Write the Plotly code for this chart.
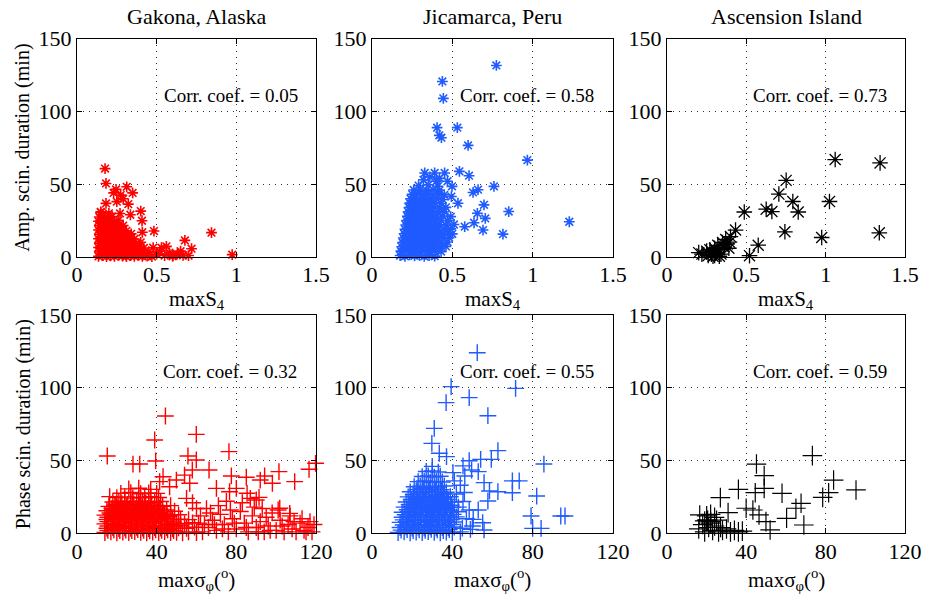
import plotly.graph_objects as go

# ---------------- data ----------------
titles = ["Gakona, Alaska", "Jicamarca, Peru", "Ascension Island"]
corr_amp = ["0.05", "0.58", "0.73"]
corr_phase = ["0.32", "0.55", "0.59"]
amp_xticks = [0, 0.5, 1, 1.5]
phase_xticks = [0, 40, 80, 120]
yticks = [0, 50, 100, 150]

# Gakona amplitude: maxS4 vs duration (min)
gak_amp_s4 = [
    0.176, 0.182, 0.245, 0.312, 0.349, 0.274, 0.182, 0.322, 0.149, 0.270,
    0.400, 0.408, 0.335, 0.483, 0.410, 0.844, 0.974, 0.677, 0.719, 0.561,
    0.603, 0.530, 0.478, 0.666, 0.250, 0.290, 0.230,
    0.135, 0.16, 0.185, 0.21, 0.235, 0.26, 0.285, 0.31, 0.335, 0.36, 0.385, 0.41, 0.44, 0.47,
    0.14, 0.165, 0.19, 0.215, 0.24, 0.265, 0.29, 0.315, 0.34, 0.365, 0.39, 0.42, 0.45,
    0.135, 0.16, 0.185, 0.21, 0.235, 0.26, 0.285, 0.31, 0.335, 0.36, 0.39, 0.42,
    0.14, 0.165, 0.19, 0.215, 0.24, 0.265, 0.29, 0.315, 0.34, 0.37, 0.40,
    0.135, 0.16, 0.185, 0.21, 0.235, 0.26, 0.285, 0.31, 0.335, 0.36,
    0.14, 0.165, 0.19, 0.215, 0.24, 0.265, 0.29, 0.315, 0.34,
    0.135, 0.16, 0.185, 0.21, 0.235, 0.26, 0.285, 0.31,
    0.14, 0.165, 0.19, 0.215, 0.24, 0.265, 0.29,
    0.135, 0.16, 0.185, 0.21, 0.235, 0.26,
    0.14, 0.165, 0.19, 0.22,
    0.15, 0.20,
    0.50, 0.52, 0.55, 0.58, 0.60, 0.63, 0.65, 0.70]
gak_amp_dur = [
    60.7, 50.5, 46.4, 48.2, 44.0, 42.5, 36.8, 36.3, 31.0, 29.9,
    31.5, 24.9, 29.0, 17.8, 17.0, 16.7, 1.6, 11.4, 5.7, 7.3,
    1.1, 6.4, 6.4, 1.1, 38.0, 40.0, 44.0,
    0.5, 1, 0.3, 0.8, 0.4, 1.2, 0.6, 0.3, 0.9, 0.5, 1.1, 0.4, 0.7, 0.3,
    3.5, 4, 3, 3.8, 3.2, 4.2, 3.6, 3, 3.9, 3.4, 4.1, 3.2, 3.7,
    6.5, 7, 6, 6.8, 6.2, 7.2, 6.6, 6, 6.9, 6.4, 7.1, 6.2,
    9.5, 10, 9, 9.8, 9.2, 10.2, 9.6, 9, 9.9, 9.4, 10.1,
    12.5, 13, 12, 12.8, 12.2, 13.2, 12.6, 12, 12.9, 12.4,
    15.5, 16, 15, 15.8, 15.2, 16.2, 15.6, 15, 15.9,
    18.5, 19, 18, 18.8, 18.2, 19.2, 18.6, 18,
    21.5, 22, 21, 21.8, 21.2, 22.2, 21.6,
    24.5, 25, 24, 24.8, 24.2, 25.2,
    27.5, 28, 27, 27.8,
    30.5, 30,
    2, 4, 1, 3, 0.5, 2, 4, 1]

# Jicamarca amplitude
jic_amp_s4 = [
    0.774, 0.438, 0.444, 0.405, 0.531, 0.419, 0.432, 0.598, 0.967, 0.328,
    0.390, 0.452, 0.544, 0.604, 0.759, 0.660, 0.629, 0.498, 0.697, 0.851,
    0.656, 0.705, 0.635, 0.691, 1.228, 0.815, 0.577, 0.535, 0.494, 0.360,
    0.420, 0.470,
    0.175, 0.205, 0.235, 0.265, 0.295, 0.325, 0.355, 0.39,
    0.18, 0.21, 0.24, 0.27, 0.30, 0.33, 0.36, 0.39, 0.43,
    0.185, 0.215, 0.245, 0.275, 0.305, 0.335, 0.365, 0.395, 0.43, 0.46,
    0.19, 0.22, 0.25, 0.28, 0.31, 0.34, 0.37, 0.40, 0.43, 0.47,
    0.195, 0.225, 0.255, 0.285, 0.315, 0.345, 0.375, 0.405, 0.44, 0.48,
    0.20, 0.23, 0.26, 0.29, 0.32, 0.35, 0.38, 0.41, 0.44, 0.47, 0.50,
    0.205, 0.235, 0.265, 0.295, 0.325, 0.355, 0.385, 0.415, 0.45, 0.49,
    0.21, 0.24, 0.27, 0.30, 0.33, 0.36, 0.39, 0.42, 0.46, 0.51,
    0.215, 0.245, 0.275, 0.305, 0.335, 0.365, 0.395, 0.43, 0.47,
    0.22, 0.25, 0.28, 0.31, 0.34, 0.37, 0.40, 0.44, 0.49,
    0.225, 0.255, 0.285, 0.315, 0.345, 0.375, 0.41, 0.45,
    0.23, 0.26, 0.29, 0.32, 0.35, 0.38, 0.42, 0.46,
    0.235, 0.265, 0.295, 0.325, 0.355, 0.39, 0.43,
    0.24, 0.27, 0.30, 0.33, 0.36, 0.40, 0.44,
    0.25, 0.28, 0.31, 0.34, 0.38, 0.42, 0.45,
    0.26, 0.30, 0.34, 0.38, 0.42,
    0.29, 0.35, 0.41,
    0.32, 0.40]
jic_amp_dur = [
    131.5, 120.5, 108.9, 88.8, 88.8, 83.5, 81.9, 76.6, 66.5, 57.7,
    57.7, 57.7, 58.8, 55.8, 48.5, 46.2, 44.3, 48.5, 35.8, 31.2,
    30.0, 26.5, 23.5, 18.5, 24.2, 15.7, 20.8, 36.9, 41.5, 55.0,
    54.0, 52.0,
    1, 0.5, 1.5, 0.8, 1.2, 0.4, 1, 0.6,
    4, 4.5, 3.6, 4.2, 3.8, 4.4, 3.5, 4.1, 3.7,
    7, 7.4, 6.6, 7.2, 6.8, 7.5, 6.7, 7.1, 6.9, 7.3,
    10, 10.5, 9.6, 10.2, 9.8, 10.4, 9.5, 10.1, 9.7, 10.3,
    13, 13.4, 12.6, 13.2, 12.8, 13.5, 12.7, 13.1, 12.9, 13.3,
    16, 16.5, 15.6, 16.2, 15.8, 16.4, 15.5, 16.1, 15.7, 16.3, 15.9,
    19, 19.4, 18.6, 19.2, 18.8, 19.5, 18.7, 19.1, 18.9, 19.3,
    22, 22.5, 21.6, 22.2, 21.8, 22.4, 21.5, 22.1, 21.7, 22.3,
    25, 25.4, 24.6, 25.2, 24.8, 25.5, 24.7, 25.1, 24.9,
    28, 28.5, 27.6, 28.2, 27.8, 28.4, 27.5, 28.1, 27.7,
    31, 31.4, 30.6, 31.2, 30.8, 31.5, 30.7, 31.1,
    34, 34.5, 33.6, 34.2, 33.8, 34.4, 33.5, 34.1,
    37, 37.4, 36.6, 37.2, 36.8, 37.5, 36.7,
    40, 40.5, 39.6, 40.2, 39.8, 40.4, 39.5,
    43, 43.4, 42.6, 43.2, 42.8, 43.5, 42.7,
    46, 46.5, 45.6, 46.2, 45.8,
    49, 49.5, 48.6,
    53, 52]

# Ascension amplitude
asc_amp_s4 = [1.060, 1.343, 0.751, 0.705, 0.793, 1.024, 0.827, 0.625, 0.661, 0.487,
              0.743, 1.338, 0.975, 0.432, 0.575, 0.520, 0.394,
              0.200, 0.220, 0.250, 0.270, 0.280, 0.300, 0.300, 0.310, 0.320, 0.330,
              0.340, 0.350, 0.360, 0.370, 0.380, 0.400, 0.390, 0.290, 0.330, 0.260]
asc_amp_dur = [66.9, 64.6, 52.6, 43.2, 38.1, 38.1, 30.9, 32.8, 31.2, 30.9,
               17.3, 16.6, 13.4, 18.5, 8.1, 0.9, 10.2,
               3, 2, 4, 5, 2, 1, 6, 3, 8, 5,
               2, 10, 7, 12, 9, 14, 6, 0.5, 0.5, 1]

# Gakona phase: max sigma_phi (deg) vs duration (min)
gak_ph_sig = [
    44.4, 59.9, 39.0, 15.2, 76.3, 39.5, 28.1, 31.5, 55.7, 59.9,
    57.9, 66.3, 77.5, 85.0, 92.0, 94.2, 98.1, 101.4, 109.3, 116.5,
    119.8, 16.4, 43.2, 41.5, 46.5, 49.9, 54.0, 56.6, 70.0, 76.6,
    80.0, 85.4, 90.0, 91.4, 101.8, 106.8,
    14, 17, 20, 23, 26, 29, 32, 35, 38, 41, 44, 47, 50, 53, 56, 60,
    15, 18, 21, 24, 27, 30, 33, 36, 39, 42, 45, 48, 51, 55, 59,
    14, 17, 20, 23, 26, 29, 32, 35, 38, 41, 44, 47, 50, 54, 58,
    15, 18, 21, 24, 27, 30, 33, 36, 39, 42, 45, 48, 52, 56,
    14, 17, 20, 23, 26, 29, 32, 35, 38, 41, 44, 47, 51,
    15, 18, 21, 24, 27, 30, 33, 36, 39, 42, 45, 49,
    16, 19, 22, 25, 28, 31, 34, 37, 40, 43, 47,
    18, 21, 24, 27, 30, 33, 36, 39, 42,
    20, 24, 28, 31, 34, 37, 41,
    22, 27, 32, 36, 40,
    26, 31, 37,
    15.5, 18.5, 21.5, 24.5, 27.5, 30.5, 33.5, 36.5, 39.5, 42.5, 45.5, 48.5,
    15.5, 18.5, 21.5, 24.5, 27.5, 30.5, 33.5, 36.5, 39.5, 42.5, 45.5, 48.5, 52,
    15.5, 18.5, 21.5, 24.5, 27.5, 30.5, 33.5, 36.5, 39.5, 42.5, 45.5, 48.5,
    15.5, 18.5, 21.5, 24.5, 27.5, 30.5, 33.5, 36.5, 39.5, 42.5, 45.5,
    16.5, 19.5, 22.5, 25.5, 28.5, 31.5, 34.5, 37.5, 40.5, 43.5,
    17.5, 20.5, 23.5, 26.5, 29.5, 32.5, 35.5, 38.5, 41.5,
    19.5, 22.5, 25.5, 28.5, 31.5, 34.5, 37.5,
    63, 66, 68, 70, 72, 74, 76, 78, 80, 82,
    84, 86, 88, 90, 92, 94, 96, 98, 100, 102,
    104, 106, 108, 110, 112, 114, 116, 118, 119, 65,
    71, 77, 83, 89, 95, 101, 107, 113, 62, 67,
    75, 87, 93, 58, 55, 61, 64, 69, 73, 79,
    85, 91, 97, 103, 109, 115, 117, 60]
gak_ph_dur = [
    80.6, 68.0, 64.1, 53.1, 56.1, 49.7, 47.6, 47.6, 53.1, 50.4,
    43.5, 43.5, 39.4, 38.5, 36.6, 39.4, 34.4, 42.4, 35.5, 44.0,
    48.1, 25.2, 38.9, 35.5, 32.0, 36.6, 40.0, 34.4, 30.9, 28.6,
    30.9, 27.5, 22.9, 24.7, 17.2, 13.7,
    0.5, 1, 0.3, 0.8, 0.4, 1.2, 0.6, 0.3, 0.9, 0.5, 1.1, 0.4, 0.7, 0.3, 1, 0.5,
    3.5, 4, 3.2, 3.8, 3.4, 4.1, 3.6, 3.3, 3.9, 3.5, 4, 3.2, 3.7, 3.4, 4.2,
    6.5, 7, 6.2, 6.8, 6.4, 7.1, 6.6, 6.3, 6.9, 6.5, 7, 6.2, 6.7, 6.4, 7.2,
    9.5, 10, 9.2, 9.8, 9.4, 10.1, 9.6, 9.3, 9.9, 9.5, 10, 9.2, 9.7, 9.4,
    12.5, 13, 12.2, 12.8, 12.4, 13.1, 12.6, 12.3, 12.9, 12.5, 13, 12.2, 12.7,
    15.5, 16, 15.2, 15.8, 15.4, 16.1, 15.6, 15.3, 15.9, 15.5, 16, 15.2,
    18.5, 19, 18.2, 18.8, 18.4, 19.1, 18.6, 18.3, 18.9, 18.5, 19,
    21.5, 22, 21.2, 21.8, 21.4, 22.1, 21.6, 21.3, 21.9,
    24.5, 25, 24.2, 24.8, 24.4, 25.1, 24.6,
    27.5, 28, 27.2, 27.8, 27.4,
    30.5, 31, 30.2,
    2, 2.4, 1.8, 2.2, 1.9, 2.5, 2.1, 1.7, 2.3, 2, 2.4, 1.8,
    5, 5.4, 4.8, 5.2, 4.9, 5.5, 5.1, 4.7, 5.3, 5, 5.4, 4.8, 5.2,
    8, 8.4, 7.8, 8.2, 7.9, 8.5, 8.1, 7.7, 8.3, 8, 8.4, 7.8,
    11, 11.4, 10.8, 11.2, 10.9, 11.5, 11.1, 10.7, 11.3, 11, 11.4,
    14, 14.4, 13.8, 14.2, 13.9, 14.5, 14.1, 13.7, 14.3, 14,
    17, 17.4, 16.8, 17.2, 16.9, 17.5, 17.1, 16.7, 17.3,
    20, 20.4, 19.8, 20.2, 19.9, 20.5, 20.1,
    1, 4, 9, 2, 13, 6, 1, 10, 3, 15,
    7, 1, 12, 4, 8, 1, 5, 14, 2, 9,
    1, 6, 3, 1, 7, 2, 4, 1, 6, 17,
    19, 16, 21, 18, 11, 16, 12, 10, 12, 14,
    22, 24, 17, 21, 24, 7, 6, 6, 3, 7,
    4, 1, 2, 5, 8, 1, 8, 17]

# Jicamarca phase
jic_ph_sig = [
    52.4, 39.4, 71.5, 48.4, 36.9, 57.7, 31.0, 29.8, 33.5, 37.1,
    62.7, 59.4, 54.1, 48.4, 45.3, 85.6, 52.9, 40.3, 49.6, 46.2,
    69.9, 73.3, 55.8, 58.5, 62.7, 69.9, 82.0, 57.7, 79.2, 84.2,
    80.0, 94.0, 96.1, 55.1, 55.8, 49.0, 50.4, 48.4, 52.9, 45.3,
    13, 16, 19, 22, 25, 28, 31, 34, 37, 40, 44,
    14, 17, 20, 23, 26, 29, 32, 35, 38, 41, 45,
    14, 17, 20, 23, 26, 29, 32, 35, 38, 41,
    15, 18, 21, 24, 27, 30, 33, 36, 39, 42,
    15, 18, 21, 24, 27, 30, 33, 36, 39, 43,
    16, 19, 22, 25, 28, 31, 34, 37, 40,
    17, 20, 23, 26, 29, 32, 35, 38, 41,
    18, 21, 24, 27, 30, 33, 36, 39,
    19, 22, 25, 28, 31, 34, 37,
    21, 24, 27, 30, 33, 36,
    23, 26, 29, 32, 35,
    25, 28, 31, 34,
    27, 30, 33,
    30,
    14.5, 17.5, 20.5, 23.5, 26.5, 29.5, 32.5, 35.5, 38.5,
    15.5, 18.5, 21.5, 24.5, 27.5, 30.5, 33.5, 36.5, 39.5,
    15.5, 18.5, 21.5, 24.5, 27.5, 30.5, 33.5, 36.5, 39.5,
    16.5, 19.5, 22.5, 25.5, 28.5, 31.5, 34.5, 37.5, 40.5,
    17.5, 20.5, 23.5, 26.5, 29.5, 32.5, 35.5, 38.5,
    18.5, 21.5, 24.5, 27.5, 30.5, 33.5, 36.5, 39.5,
    19.5, 22.5, 25.5, 28.5, 31.5, 34.5, 37.5,
    20.5, 23.5, 26.5, 29.5, 32.5, 35.5,
    22.5, 25.5, 28.5, 31.5, 34.5,
    42, 44, 47, 50, 43, 46, 41]
jic_ph_dur = [
    124.1, 100.8, 99.6, 93.2, 89.8, 80.8, 72.1, 61.8, 55.0, 52.7,
    56.8, 50.8, 50.8, 49.9, 46.3, 47.6, 42.4, 41.7, 43.5, 39.4,
    36.0, 36.0, 34.8, 29.1, 28.6, 27.9, 25.6, 22.2, 11.9, 3.4,
    3.4, 11.9, 11.9, 7.3, 2.3, 2.7, 9.6, 16.0, 16.0, 21.8,
    0.5, 1, 0.3, 0.8, 0.4, 1.2, 0.6, 0.3, 0.9, 0.5, 1,
    4, 4.4, 3.6, 4.2, 3.8, 4.5, 3.7, 4.1, 3.9, 4.3, 3.5,
    7.5, 7.9, 7.1, 7.7, 7.3, 8, 7.2, 7.6, 7.4, 7.8,
    11, 11.4, 10.6, 11.2, 10.8, 11.5, 10.7, 11.1, 10.9, 11.3,
    14.5, 14.9, 14.1, 14.7, 14.3, 15, 14.2, 14.6, 14.4, 14.8,
    18, 18.4, 17.6, 18.2, 17.8, 18.5, 17.7, 18.1, 17.9,
    21.5, 21.9, 21.1, 21.7, 21.3, 22, 21.2, 21.6, 21.4,
    25, 25.4, 24.6, 25.2, 24.8, 25.5, 24.7, 25.1,
    28.5, 28.9, 28.1, 28.7, 28.3, 29, 28.2,
    32, 32.4, 31.6, 32.2, 31.8, 32.5,
    35.5, 35.9, 35.1, 35.7, 35.3,
    39, 39.4, 38.6, 39.2,
    42.5, 42.9, 42.1,
    46,
    2.2, 2.6, 1.9, 2.4, 2.0, 2.7, 2.3, 1.8, 2.5,
    5.7, 6.1, 5.4, 5.9, 5.5, 6.2, 5.8, 5.3, 6.0,
    9.2, 9.6, 8.9, 9.4, 9.0, 9.7, 9.3, 8.8, 9.5,
    12.7, 13.1, 12.4, 12.9, 12.5, 13.2, 12.8, 12.3, 13.0,
    16.2, 16.6, 15.9, 16.4, 16.0, 16.7, 16.3, 15.8,
    19.7, 20.1, 19.4, 19.9, 19.5, 20.2, 19.8, 19.3,
    23.2, 23.6, 22.9, 23.4, 23.0, 23.7, 23.3,
    26.7, 27.1, 26.4, 26.9, 26.5, 27.2,
    30.2, 30.6, 29.9, 30.4, 30.0,
    27, 33, 10, 5, 18, 28, 36]

# Ascension phase
asc_ph_sig = [73.3, 45.1, 49.0, 84.0, 36.0, 44.5, 49.0, 58.0, 81.5, 78.5,
              95.3, 26.9, 67.6, 65.0, 60.3, 69.0, 39.9, 43.3, 30.8, 46.4,
              49.9, 52.0, 16.5, 19.0, 20.5, 22.0,
              16, 18, 19, 20, 21, 22, 23, 24, 25, 26, 27, 28, 30, 32, 34, 36, 38,
              20, 22, 24]
asc_ph_dur = [53.4, 47.6, 39.6, 36.6, 30.2, 27.9, 30.9, 27.5, 27.9, 24.7,
              29.8, 24.5, 20.6, 17.2, 10.3, 5.7, 17.2, 16.0, 14.2, 12.6,
              8.0, 2.3, 12.6, 8.5, 9.0, 8.0,
              3, 6, 1, 9, 4, 7, 2, 5, 9, 1, 4, 2, 3, 1, 2, 1, 1.5,
              12, 13, 11]

# ---------------- figure ----------------
RED = "#ff0000"
BLUE = "#1f5bff"
BLACK = "#000000"
FONT = '"Liberation Serif", "Times New Roman", Times, serif'

col_dom = [[77 / 932, 316 / 932], [372 / 932, 613 / 932], [667 / 932, 905 / 932]]
row_dom = [[1 - 257 / 600, 1 - 38.5 / 600], [1 - 533.3 / 600, 1 - 315 / 600]]

panels = [
    (gak_amp_s4, gak_amp_dur, RED, "asterisk-open", 9, 1.6, corr_amp[0]),
    (jic_amp_s4, jic_amp_dur, BLUE, "asterisk-open", 9, 1.6, corr_amp[1]),
    (asc_amp_s4, asc_amp_dur, BLACK, "asterisk-open", 13, 1.3, corr_amp[2]),
    (gak_ph_sig, gak_ph_dur, RED, "cross-thin-open", 12, 1.4, corr_phase[0]),
    (jic_ph_sig, jic_ph_dur, BLUE, "cross-thin-open", 12, 1.4, corr_phase[1]),
    (asc_ph_sig, asc_ph_dur, BLACK, "cross-thin-open", 14, 1.2, corr_phase[2]),
]
for p in panels:
    assert len(p[0]) == len(p[1]), (len(p[0]), len(p[1]))

fig = go.Figure()
layout = dict(
    template="none",
    width=932, height=600,
    margin=dict(l=0, r=0, t=0, b=0, pad=0),
    paper_bgcolor="white", plot_bgcolor="white",
    showlegend=False,
    font=dict(family=FONT, size=19, color="black"),
    annotations=[],
)

axis_common = dict(
    automargin=False,
    showline=True, linecolor="black", linewidth=1, mirror="ticks",
    ticks="inside", ticklen=5, tickcolor="black", tickwidth=1,
    showgrid=True, gridcolor="#333333", gridwidth=1, griddash="1px,5px",
    zeroline=False, tickfont=dict(family=FONT, size=22, color="black"),
)

for i, (xs, ys, color, sym, size, lw, cc) in enumerate(panels):
    r, c = divmod(i, 3)
    n = i + 1
    xa = "x" if n == 1 else f"x{n}"
    ya = "y" if n == 1 else f"y{n}"
    fig.add_trace(go.Scatter(
        x=xs, y=ys, mode="markers", xaxis=xa, yaxis=ya, cliponaxis=False,
        marker=dict(symbol=sym, size=size, color=color,
                    line=dict(color=color, width=lw)),
        hoverinfo="skip",
    ))
    xticks = amp_xticks if r == 0 else phase_xticks
    layout["xaxis" if n == 1 else f"xaxis{n}"] = dict(
        axis_common, domain=col_dom[c], anchor=ya, range=[xticks[0], xticks[-1]],
        tickvals=xticks, ticktext=[f"{t:g}" for t in xticks], ticklabelstandoff=-2,
    )
    layout["yaxis" if n == 1 else f"yaxis{n}"] = dict(
        axis_common, domain=row_dom[r], anchor=xa, range=[0, 150],
        tickvals=yticks, ticklabelstandoff=0,
    )
    # correlation text
    layout["annotations"].append(dict(
        text=f"Corr. coef. = {cc}", xref=xa, yref=ya,
        x=0.965 if r == 0 else 77, y=111,
        showarrow=False, font=dict(family=FONT, size=19, color="black"),
        xanchor="center", yanchor="middle",
    ))
    cx = (col_dom[c][0] + col_dom[c][1]) / 2
    # x-axis title
    xt = "maxS<sub>4</sub>" if r == 0 else "maxσ<sub>φ</sub>(<sup>o</sup>)"
    layout["annotations"].append(dict(
        text=xt, xref="paper", yref="paper", x=cx,
        y=1 - (285 / 600 if r == 0 else 563 / 600),
        showarrow=False, font=dict(family=FONT, size=21, color="black"),
        xanchor="center", yanchor="top",
    ))
    if r == 0:
        layout["annotations"].append(dict(
            text=titles[c], xref="paper", yref="paper", x=cx, y=1 - 17 / 600,
            showarrow=False, font=dict(family=FONT, size=22, color="black"),
            xanchor="center", yanchor="middle",
        ))

for r, label in enumerate(["Amp. scin. duration (min)", "Phase scin. duration (min)"]):
    layout["annotations"].append(dict(
        text=label, xref="paper", yref="paper", x=23 / 932,
        y=(row_dom[r][0] + row_dom[r][1]) / 2, textangle=-90,
        showarrow=False, font=dict(family=FONT, size=20, color="black"),
        xanchor="center", yanchor="middle",
    ))

fig.update_layout(**layout)
fig.write_html("out.html")
